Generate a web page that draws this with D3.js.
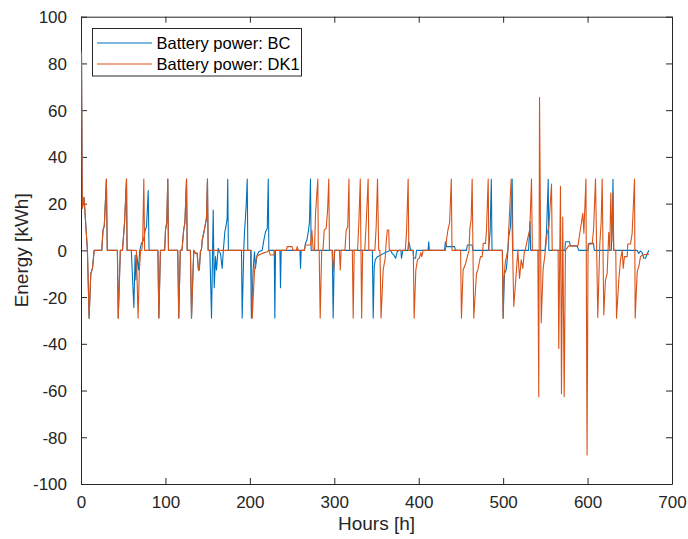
<!DOCTYPE html>
<html>
<head>
<meta charset="utf-8">
<script src="https://cdn.jsdelivr.net/npm/d3@7/dist/d3.min.js"></script>
<style>
  html, body { margin: 0; padding: 0; background: #fff; }
  svg { display: block; font-family: "Liberation Sans", Arial, Helvetica, sans-serif; }
</style>
</head>
<body>
<svg id="chart" width="688" height="539"></svg>
<script>
// ---------- data ----------
const seriesNames = ["Battery power: BC", "Battery power: DK1"];
const xTicks = [0, 100, 200, 300, 400, 500, 600, 700];
const yTicks = [-100, -80, -60, -40, -20, 0, 20, 40, 60, 80, 100];

// [hour, energy kWh] breakpoints of the DK1 battery power
const dk1Points = [
  [0,85],[1,18],[3,22.7],[7,0],[9,-29],[11,-10],[13,-7.7],[15,0],
  [24,0],[25.5,8.7],[27,10.5],[29.5,30.5],[30.5,0],
  [42.5,0],[43.5,-29],[46,0],
  [48.5,0],[51,12],[53.3,30.5],[54,0],
  [65,0],[67,-29],[68.5,-8.4],[70,0],
  [71.5,0],[72.5,4.4],[73.8,30.5],[74.8,0],
  [90.5,0],[91.6,-29],[93.5,0],
  [98.5,0],[99.5,8.7],[101,12],[102.2,30.5],[103,0],
  [114,0],[115.2,-29],[117,0],
  [119,0],[121,8.7],[122.5,12],[124.4,30.5],[125.2,0],
  [129,0],[130.3,-29],[132,-10],[133,0],[135,-1.3],[137,-1.3],[138.5,-8.4],[139.5,-8.4],[141,0],
  [142,0],[143,4.4],[145.5,8.7],[148,13.7],[149.2,30.5],[150,0],
  [201,0],[202.2,-29],[205,-8.4],[207.3,-2.7],[210,-2],[214,-1.3],[220,-0.6],[221.8,0],[223.8,-2],[227.8,-2],[228.6,0],
  [242.5,0],[243.6,1.6],[249.5,1.6],[250.5,0],
  [254.5,0],[255.5,1.6],[256.5,0],
  [264,0],[265.3,2.3],[271.2,2.3],[272.8,8.7],[274.5,0],[276,0],[277.2,15.9],[279.9,30.5],[280.5,0],
  [281.5,0],[282.7,-29],[284.5,0],
  [286,0],[287.5,8.7],[289.8,9.3],[291.5,17.3],[292.9,30.5],[293.7,0],
  [297,0],[298.5,-9],[300,0],
  [305.5,0],[306.5,-8.4],[307.5,0],
  [312,0],[313.5,8.7],[315.3,10],[316.8,30.5],[317.5,0],
  [320.8,0],[321.8,-29],[323,0],
  [327,0],[328.5,12],[330.2,30.5],[331.8,-29],[333,0],
  [335.5,0],[337,10],[339.5,30.5],[340.3,0],
  [347.5,0],[349,10],[350.6,30.5],[352,0],[353.5,0],[354.8,-29],[357.3,-8.4],[359.7,-3.4],[361,4],[362.2,8.7],[363.8,8.7],[364.6,0],
  [383.5,0],[385,8],[386.9,30.5],[387.7,0],
  [393,0],[394,-29],[396,-8.4],[398,-4],[400,-3.4],[402,-1],[403,-2.7],[404.7,0],
  [431,0],[432.5,5],[434,8.7],[436,12],[438,30.5],[438.8,0],
  [449,0],[450,-29],[452,-8.4],[455,-5.6],[457,-2.7],[459,0],
  [460,9.4],[461.5,13],[462.7,30.5],[464.6,-29],[467.8,-10],[469.4,-8.4],[472.6,-2.7],[474.6,-2.7],[475.8,3],[478.5,3],[479.7,8.7],[481.7,30.5],[482.5,0],
  [498.5,0],[499.4,-29],[500.2,-12.7],[502,-5],[504.2,-1.3],[505,0],[506,8.7],[508.9,30.5],[512,-24],[515.2,-8.4],[516.8,0],[518.8,-12],[520.8,-4],[522.7,-7.7],[524.7,0],
  [525.5,0],[527,2.7],[529.8,7.3],[531,9],[533,30.5],[534,0],
  [540.5,0],[541.6,-62.7],[542.5,65.5],[544.5,-31],[546.8,-7.7],[548.4,-3.4],[551.5,7.3],[553.5,10],[556.7,28.4],[557.5,0],
  [564.5,0],[565.3,-42],[567.3,27.4],[568.5,-61.4],[570,14.3],[571.7,-62.6],[573.2,0],
  [577,1.9],[588,1.9],[590.2,7.3],[593.8,15.9],[595,7.3],[597.5,30.5],[598.8,-87.6],[600,2.7],[604.9,2.7],[606.5,9],[608.8,30.5],[611.5,-28.7],
  [613.9,2.7],[615.5,12],[616.7,30.5],[618.6,-27.7],[620.6,-12.7],[622.6,-10],[624.5,7.7],[625.7,0],[626.9,24.5],[628.2,4],[629.5,24.5],[630.5,0],
  [632.8,0],[633.7,-29],[636.4,-12.7],[638.4,-4],[640.4,0],[641.6,-7.7],[643.1,-2.7],[646.3,-2.7],[647,2.7],[650.2,2.7],[652.2,7.3],[655,30.5],
  [655.8,-29],[658.2,-9],[660.1,-7],[662.1,-2.7],[664.1,-2],[672,-1.6]
];

// [hour, energy kWh] breakpoints of the BC battery power
const bcPoints = [
  [0,85],[1,18],[3,22.7],[7,0],[9,-29],[11,-10],[13,-7.7],[15,0],
  [24,0],[25.5,8.7],[27,10.5],[29.5,30.5],[30.5,0],
  [42.5,0],[43.5,-29],[46,0],
  [48.5,0],[51,12],[53.3,30.5],[54,0],
  [59,0],[62,-24.5],[63.5,-2],[64.5,-12.7],[65.5,-2],[67.5,-8.4],[69,0],[71,3],[73.5,4.4],[75.5,8.7],[77,10],[79,25.6],[80,0],
  [90.5,0],[91.6,-29],[93.5,0],
  [98.5,0],[99.5,8.7],[101,12],[102.2,30.5],[103,0],
  [114,0],[115.2,-29],[117,0],
  [119,0],[121,8.7],[122.5,12],[124.4,30.5],[125.2,0],
  [129,0],[130.3,-29],[132,-10],[133,0],[135,-1.3],[137,-1.3],[138.5,-8.4],[139.5,-8.4],[141,0],
  [142,0],[143,4.4],[145.5,8.7],[148,13.7],[149.2,30.5],[150,0],
  [152,0],[154,-29],[156,17.3],[157.2,-16],[158.7,-2.7],[159.9,-8.4],[161.9,0.9],[163,-0.6],[164.6,-1.3],[166.6,-7.7],[168,0],[169.8,8],[171,10],[172.5,13.7],[173.2,30.4],[174,0],
  [189.5,0],[190.3,-29],[192.2,0],[193,7.3],[195,18.7],[196.3,30.5],[197,0],
  [200.3,0],[201.2,-29],[203.3,-8.4],[204.9,-0.6],[206,-7.7],[208,-2],[210,-0.6],[214,0],[216,4.4],[218,8],[220,9.4],[221.2,30.5],[221.9,0],
  [228.3,0],[229,-29],[229.8,0],
  [235,0],[235.7,-16],[236.5,0],
  [258.7,0],[259.4,-7.7],[260.2,0],
  [264,0],[265.3,3],[267,4.4],[269,9],[270,12],[271.2,30.5],[272,0],
  [297,0],[298.1,-29],[299.5,0],
  [344.5,0],[345.5,-29],[346.7,-7],[348,-4],[350.6,-2.7],[354.5,-2],[358,-1.3],[362,-0.6],[366,0],[368,-1.3],[370,-2],[372,-3.4],[374,-0.6],[376,0],[378.3,0],[379,-3.4],[380.6,0],
  [386.5,0],[387.5,3.7],[389,1.6],[390,0],[392.5,0],[393.5,-3.4],[395.7,-3.4],[396.8,0],
  [410.5,0],[411.3,3.7],[412,0],
  [430,0],[431,3.7],[432.5,1.6],[441.8,1.6],[443,0],
  [456,0],[457,2.3],[462.7,2.3],[463.5,0],
  [482,0],[484,8],[485.4,30.4],[486.2,0],
  [498.5,0],[499.4,-29],[501,-10],[503,-8.4],[504.5,-3],[506.1,5.9],[508,10],[510.1,30.5],[511,0],
  [529.5,0],[531.2,12.3],[532,0],
  [549,0],[550.7,7.3],[552.8,30.4],[553.5,0],
  [572.5,0],[573.2,3.7],[578,3.7],[579,1.9],[587,1.9],[589,0],[600,0],[601,3],[606.4,3],[607.5,0],
  [627.5,0],[628.5,10],[629.5,30.4],[630.2,0],
  [658,0],[660,-1.3],[662,-0.3],[664,-1],[666,-3.4],[668,-3.4],[670,-1.6],[672,0]
];

const seriesColors = ["#0072BD", "#D95319"];

// ---------- layout ----------
const svg = d3.select("#chart");
const L = 81, R = 672, T = 16.7, B = 484;
const x = d3.scaleLinear().domain([0, 700]).range([L, R]);
const y = d3.scaleLinear().domain([-100, 100]).range([B, T]);
const axisColor = "#262626";
const tickFont = 17;

svg.append("rect").attr("x", 0).attr("y", 0).attr("width", 688).attr("height", 539).attr("fill", "#fff");

svg.append("clipPath").attr("id", "plotclip")
  .append("rect").attr("x", L - 1).attr("y", T).attr("width", R - L + 1).attr("height", B - T);

// axes (bottom, left with labels; top, right mirrored ticks)
const tickLen = 6;
const xAxisB = d3.axisBottom(x).tickValues(xTicks).tickSizeInner(-tickLen).tickSizeOuter(0).tickPadding(tickLen + 8).tickFormat(d3.format("d"));
const yAxisL = d3.axisLeft(y).tickValues(yTicks).tickSizeInner(-tickLen).tickSizeOuter(0).tickPadding(tickLen + 8).tickFormat(d => String(d));
const xAxisT = d3.axisTop(x).tickValues(xTicks).tickSizeInner(-tickLen).tickSizeOuter(0).tickFormat("");
const yAxisR = d3.axisRight(y).tickValues(yTicks).tickSizeInner(-tickLen).tickSizeOuter(0).tickFormat("");

function styleAxis(sel) {
  sel.selectAll("path.domain").attr("stroke", axisColor).attr("stroke-width", 1);
  sel.selectAll(".tick line").attr("stroke", axisColor).attr("stroke-width", 1);
  sel.selectAll(".tick text").attr("fill", axisColor).style("font-size", tickFont + "px")
    .style("font-family", '"Liberation Sans", Arial, Helvetica, sans-serif');
}
const gb = svg.append("g").attr("transform", `translate(0,${B})`).call(xAxisB); styleAxis(gb);
const gl = svg.append("g").attr("transform", `translate(${L},0)`).call(yAxisL); styleAxis(gl);
const gt = svg.append("g").attr("transform", `translate(0,${T})`).call(xAxisT); styleAxis(gt);
const gr = svg.append("g").attr("transform", `translate(${R},0)`).call(yAxisR); styleAxis(gr);
gb.selectAll(".tick text").attr("dy", "0.6em");
gl.selectAll(".tick text").attr("dy", "0.35em");

// lines (drawn over the axes so the first spike at h=0 stays visible)
const line = d3.line().x(d => x(d[0]) + 0.5).y(d => y(d[1]));
const g = svg.append("g").attr("clip-path", "url(#plotclip)");
[bcPoints, dk1Points].forEach((pts, i) => {
  g.append("path").datum(pts)
    .attr("d", line)
    .attr("fill", "none")
    .attr("stroke", seriesColors[i])
    .attr("stroke-width", 1.1)
    .attr("stroke-linejoin", "round");
});

// axis labels
svg.append("text").attr("x", (L + R) / 2).attr("y", 530)
  .attr("text-anchor", "middle").attr("fill", axisColor)
  .style("font-size", "19px").text("Hours [h]");
svg.append("text").attr("transform", `translate(28,${(T + B) / 2}) rotate(-90)`)
  .attr("text-anchor", "middle").attr("fill", axisColor)
  .style("font-size", "19px").text("Energy [kWh]");

// legend
const lg = svg.append("g");
lg.append("rect").attr("x", 92.5).attr("y", 28.5).attr("width", 209).attr("height", 47.5)
  .attr("fill", "#fff").attr("stroke", axisColor).attr("stroke-width", 1);
seriesNames.forEach((name, i) => {
  const cy = 43 + i * 21;
  lg.append("line").attr("x1", 97).attr("x2", 152).attr("y1", cy).attr("y2", cy)
    .attr("stroke", seriesColors[i]).attr("stroke-width", 1.1);
  lg.append("text").attr("x", 156.5).attr("y", cy).attr("dy", "0.35em")
    .attr("fill", "#000").style("font-size", "16.5px").text(name);
});
</script>
</body>
</html>
